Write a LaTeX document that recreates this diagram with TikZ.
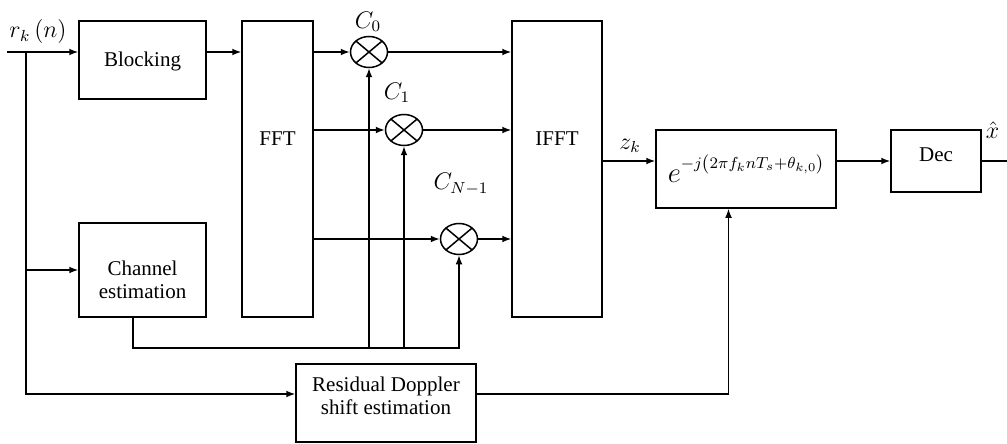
\documentclass[tikz,border=0pt]{standalone}
\usepackage{amsmath}
\usepackage{fontspec}
\setmainfont{Liberation Serif}
\usepackage{tikz}
\usetikzlibrary{positioning, calc, shapes.geometric, arrows.meta}

% text inside a box, lifted by #1 from the box centre
\newcommand{\boxtxt}[2]{\raisebox{#1}[0pt][0pt]{#2}}

\begin{document}
\begin{tikzpicture}[%
    >={Latex[length=4.5pt,width=3.4pt]}, % arrow tips
    x=0.5pt, y=-0.5pt,  % one unit = one pixel of the reference
    line width=0.75pt,  % line width
    font=\fontsize{10.5}{11.5}\selectfont,
    blockbox/.style={draw, inner sep=0pt},
    mult/.style={draw, ellipse, inner sep=0pt,
        minimum width=18.5pt, minimum height=15.5pt,
        path picture={
            \draw (path picture bounding box.south west) -- (path picture bounding box.north east)
                  (path picture bounding box.north west) -- (path picture bounding box.south east);
        }},
    lbl/.style={inner sep=0pt, font=\fontsize{11.5}{12}\selectfont}
]
    \useasboundingbox (0,0) rectangle (1007,444);

    % ==========================================
    % 1. Blocks
    % ==========================================
    \node[blockbox, minimum width=63.5pt, minimum height=39pt] (blk) at (142.5,60) {\boxtxt{-3.5pt}{Blocking}};
    \node[blockbox, minimum width=63.5pt, minimum height=47pt] (chest) at (142.5,270)
        {\boxtxt{-8.8pt}{\begin{tabular}{@{}c@{}}Channel\\estimation\end{tabular}}};
    \node[blockbox, minimum width=35.5pt, minimum height=148pt] (fft) at (277.5,169) {\boxtxt{11.5pt}{FFT}};
    \node[blockbox, minimum width=45pt, minimum height=148pt] (ifft) at (557,169) {\boxtxt{11.5pt}{IFFT}};
    \node[blockbox, minimum width=90pt, minimum height=39pt] (rot) at (746,169)
        {{\fontsize{15}{15}\selectfont$e$}\raisebox{7pt}{\fontsize{8.5}{9}\selectfont$-j\bigl(2\pi f_k nT_s{+}\theta_{k,0}\bigr)$}};
    \node[blockbox, minimum width=45pt, minimum height=31pt] (dec) at (936,161) {\boxtxt{-0.25pt}{Dec}};
    \node[blockbox, minimum width=90pt, minimum height=39pt] (rdse) at (386,403)
        {\boxtxt{-0.3pt}{\begin{tabular}{@{}c@{}}Residual Doppler\\shift estimation\end{tabular}}};

    % multipliers
    \node[mult] (m0) at (369,52) {};
    \node[mult] (m1) at (404,130) {};
    \node[mult] (m2) at (459,239) {};

    % ==========================================
    % 2. Labels
    % ==========================================
    \node[lbl] (rlbl) at (38,32) {$r_k\left(n\right)$};
    \node[lbl] (c0lbl) at (368,22) {$C_0$};
    \node[lbl] (c1lbl) at (397,93) {$C_1$};
    \node[lbl] (cnlbl) at (461,184) {$C_{N-1}$};
    \node[lbl] (zlbl) at (630,146) {$z_k$};
    \node[lbl] (xlbl) at (992.5,130.5) {$\hat{x}$};

    % ==========================================
    % 3. Connections
    % ==========================================
    \coordinate (rin) at (7,52);
    \coordinate (tap) at (26,52);
    \coordinate (bus) at (0,348);
    \coordinate (xout) at (1007,161);

    % input and its branches
    \draw[->] (rin) -- (blk.west |- tap);
    \draw[->] (tap) |- ([yshift=4.5pt]rdse.west);
    \draw[->] (tap |- chest.west) -- (chest.west);
    \draw[->] (blk.east |- tap) -- (fft.west |- tap);

    % FFT -> multipliers -> IFFT
    \draw[->] (fft.east |- m0) -- (m0);
    \draw[->] (fft.east |- m1) -- (m1);
    \draw[->] (fft.east |- m2) -- (m2);
    \draw[->] (m0) -- (ifft.west |- m0);
    \draw[->] (m1) -- (ifft.west |- m1);
    \draw[->] (m2) -- (ifft.west |- m2);

    % channel estimates to the multipliers
    \draw[->] ([xshift=-4.75pt]chest.south) |- (m2 |- bus) -- (m2);
    \draw[->] (m0 |- bus) -- (m0);
    \draw[->] (m1 |- bus) -- (m1);

    % IFFT -> phase rotation -> decision
    \draw[->] (ifft.east |- dec) -- (rot.west |- dec);
    \draw[->] (rot.east |- dec) -- (dec);
    \draw (dec) -- (xout);
    \draw[->] ([yshift=4.5pt]rdse.east) -| ([xshift=-8.75pt]rot.south);

\end{tikzpicture}
\end{document}
